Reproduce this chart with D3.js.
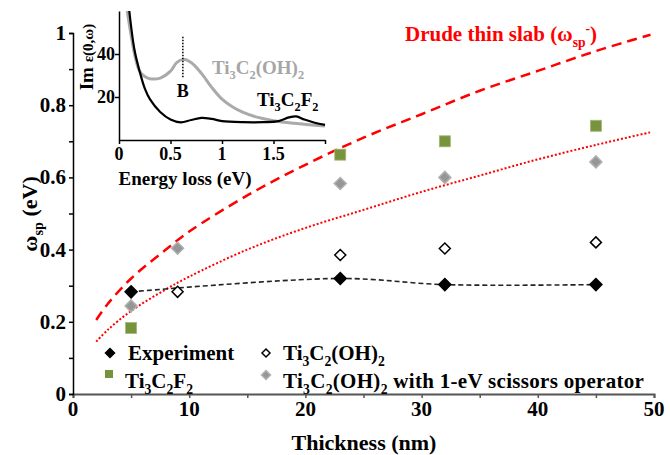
<!DOCTYPE html>
<html>
<head>
<meta charset="utf-8">
<title>Surface plasmon vs thickness</title>
<script src="https://d3js.org/d3.v7.min.js"></script>
<style>
  body { margin: 0; background: #fff; }
  svg text { font-family: "Liberation Serif", "Times New Roman", Tinos, "DejaVu Serif", serif; font-weight: bold; }
</style>
</head>
<body>
<svg id="chart" width="670" height="455"></svg>
<script>
// ---- data ----
var expThick = [5, 23, 32, 45];
var expVals  = [0.283, 0.32, 0.303, 0.303];

var ohThick = [9, 23, 32, 45];
var ohVals  = [0.283, 0.385, 0.403, 0.42];

var f2Thick = [5, 23, 32, 45];
var f2Vals  = [0.183, 0.663, 0.70, 0.743];

var scThick = [5, 9, 23, 32, 45];
var scVals  = [0.244, 0.404, 0.583, 0.60, 0.643];

// red Drude curves
var drudeX    = [2, 3, 5, 8, 10, 15, 20, 25, 30, 35, 40, 45, 49.7];
var drudeDash = [0.205, 0.25, 0.32, 0.40, 0.45, 0.55, 0.635, 0.71, 0.775, 0.84, 0.895, 0.95, 0.995];
var drudeDot  = [0.145, 0.178, 0.23, 0.29, 0.325, 0.40, 0.46, 0.51, 0.56, 0.605, 0.65, 0.69, 0.725];

// inset: Im eps(0,w) vs energy loss
var f2E   = [0.1, 0.15, 0.2, 0.25, 0.3, 0.4, 0.5, 0.6, 0.7, 0.8, 0.9, 1.0, 1.2, 1.4, 1.55, 1.65, 1.72, 1.8, 1.9, 2.0];
var f2Im  = [60, 42, 32, 24, 19, 13, 9.5, 8.2, 9.3, 10.3, 9.8, 8.8, 8.3, 8.3, 8.8, 10.5, 11, 9.5, 8, 7];
var ohE   = [0.08, 0.12, 0.16, 0.2, 0.25, 0.3, 0.4, 0.5, 0.56, 0.62, 0.7, 0.8, 0.9, 1.0, 1.1, 1.2, 1.35, 1.5, 1.7, 2.0];
var ohIm  = [60, 48, 38, 32, 29.5, 28.5, 28.8, 32, 36, 37.5, 36, 31, 24.5, 19, 15.5, 13, 10.5, 9, 7.8, 6.5];

var xTicks = [0, 10, 20, 30, 40, 50];
var yTicks = [0, 0.2, 0.4, 0.6, 0.8, 1];
var insetXTicks = [0, 0.5, 1, 1.5];
var insetYTicks = [20, 40];

// ---- helpers ----
var svg = d3.select("#chart");

// parts: [text, "sub"|"sup"|""]
function richText(g, x, y, parts, size, color, anchor) {
    var t = g.append("text").attr("x", x).attr("y", y)
        .attr("font-size", size).attr("fill", color || "#000")
        .attr("text-anchor", anchor || "start");
    var shift = 0;
    parts.forEach(function(p) {
        var dy = 0, fs = size;
        if (p[1] == "sub") { dy = size * 0.28 - shift; fs = size * 0.65; }
        else if (p[1] == "sup") { dy = -size * 0.38 - shift; fs = size * 0.65; }
        else { dy = -shift; }
        shift += dy;
        t.append("tspan").attr("dy", dy).attr("font-size", fs).text(p[0]);
    });
    return t;
}

function diamond(g, cx, cy, r, fill, stroke) {
    g.append("path")
        .attr("d", "M" + cx + "," + (cy - r) + "L" + (cx + r) + "," + cy + "L" + cx + "," + (cy + r) + "L" + (cx - r) + "," + cy + "Z")
        .attr("fill", fill).attr("stroke", stroke).attr("stroke-width", 1.5);
}

// ---- main plot ----
var x = d3.scaleLinear([0, 50], [73, 654]);
var y = d3.scaleLinear([0, 1], [394, 33]);

var main = svg.append("g");

// axes
var xAxis = main.append("g").attr("transform", "translate(0,394)")
    .call(d3.axisBottom(x).tickValues(d3.range(0, 51, 5)).tickSize(4).tickFormat(""));
xAxis.select(".domain").attr("stroke", "#555").attr("stroke-width", 2);
xAxis.selectAll(".tick line").attr("stroke", "#555").attr("stroke-width", 1.5);
main.selectAll(".xl").data(xTicks).join("text")
    .attr("x", d => x(d)).attr("y", 416).attr("text-anchor", "middle")
    .attr("font-size", 21).text(d => d);

var yAxis = main.append("g").attr("transform", "translate(73,0)")
    .call(d3.axisLeft(y).tickValues(d3.range(0, 1.01, 0.1)).tickSize(4).tickFormat(""));
yAxis.select(".domain").attr("stroke", "#000").attr("stroke-width", 1.5);
yAxis.selectAll(".tick line").attr("stroke", "#000").attr("stroke-width", 1.5);
main.selectAll(".yl").data(yTicks).join("text")
    .attr("x", 66).attr("y", d => y(d) + 7).attr("text-anchor", "end")
    .attr("font-size", 21).text(d => d);

// axis titles
main.append("text").attr("x", 364).attr("y", 450).attr("text-anchor", "middle")
    .attr("font-size", 22).text("Thickness (nm)");
var yt = main.append("g").attr("transform", "translate(37,214) rotate(-90)");
richText(yt, 0, 0, [["ω", ""], ["sp", "sub"], [" (eV)", ""]], 22, "#000", "middle");

// Drude curves
var line = d3.line().x(d => x(d[0])).y(d => y(d[1])).curve(d3.curveCatmullRom);
main.append("path").datum(d3.zip(drudeX, drudeDash)).attr("d", line)
    .attr("fill", "none").attr("stroke", "#ff0000").attr("stroke-width", 2.5)
    .attr("stroke-dasharray", "10,6");
main.append("path").datum(d3.zip(drudeX, drudeDot)).attr("d", line)
    .attr("fill", "none").attr("stroke", "#ff0000").attr("stroke-width", 2)
    .attr("stroke-dasharray", "2,2");

// experiment dashed connector
main.append("path").datum(d3.zip(expThick, expVals)).attr("d", line)
    .attr("fill", "none").attr("stroke", "#222").attr("stroke-width", 1.6)
    .attr("stroke-dasharray", "5,3");

// markers
d3.zip(f2Thick, f2Vals).forEach(function(d) {
    main.append("rect").attr("x", x(d[0]) - 5.5).attr("y", y(d[1]) - 5.5)
        .attr("width", 11).attr("height", 11).attr("fill", "#77933c")
        .attr("stroke", "#a3b87a").attr("stroke-width", 0.8);
});
d3.zip(scThick, scVals).forEach(function(d) {
    diamond(main, x(d[0]), y(d[1]), 6, "#969696", "#b0b0b0");
});
d3.zip(ohThick, ohVals).forEach(function(d) {
    diamond(main, x(d[0]), y(d[1]), 5.5, "#fff", "#000");
});
d3.zip(expThick, expVals).forEach(function(d) {
    diamond(main, x(d[0]), y(d[1]), 6, "#000", "#000");
});

// title of Drude curve
richText(main, 405, 41, [["Drude thin slab (ω", ""], ["sp", "sub"], ["-", "sup"], [")", ""]], 21, "#ff0000");

// legend
diamond(main, 110, 353, 4.5, "#000", "#000");
richText(main, 128, 360, [["Experiment", ""]], 21);
diamond(main, 266, 353, 4, "#fff", "#000");
richText(main, 283, 360, [["Ti", ""], ["3", "sub"], ["C", ""], ["2", "sub"], ["(OH)", ""], ["2", "sub"]], 21);
main.append("rect").attr("x", 105).attr("y", 370).attr("width", 8).attr("height", 8).attr("fill", "#77933c");
richText(main, 125, 388, [["Ti", ""], ["3", "sub"], ["C", ""], ["2", "sub"], ["F", ""], ["2", "sub"]], 21);
diamond(main, 266, 375, 4.5, "#969696", "#b0b0b0");
richText(main, 283, 388, [["Ti", ""], ["3", "sub"], ["C", ""], ["2", "sub"], ["(OH)", ""], ["2", "sub"], [" with 1-eV scissors operator", ""]], 21)
    .attr("letter-spacing", 0.3);

// ---- inset ----
var ix = d3.scaleLinear([0, 2], [119, 325]);
var iy = d3.scaleLinear([0, 60], [140, 11]);
var inset = svg.append("g");

var ixAxis = inset.append("g").attr("transform", "translate(0,140)")
    .call(d3.axisBottom(ix).tickValues([0, 0.5, 1, 1.5, 2]).tickSize(4).tickSizeOuter(0).tickFormat(""));
var iyAxis = inset.append("g").attr("transform", "translate(119,0)")
    .call(d3.axisLeft(iy).tickValues(insetYTicks).tickSize(4).tickSizeOuter(0).tickFormat(""));
inset.selectAll(".domain").attr("stroke", "#000").attr("stroke-width", 1.5);
inset.selectAll(".tick line").attr("stroke", "#000").attr("stroke-width", 1.5);

inset.selectAll(".ixl").data(insetXTicks).join("text")
    .attr("x", d => ix(d)).attr("y", 160).attr("text-anchor", "middle")
    .attr("font-size", 18).text(d => d);
inset.selectAll(".iyl").data(insetYTicks).join("text")
    .attr("x", 115).attr("y", d => iy(d) + 6).attr("text-anchor", "end")
    .attr("font-size", 18).text(d => d);
inset.append("text").attr("x", 185).attr("y", 185).attr("text-anchor", "middle")
    .attr("font-size", 19).text("Energy loss (eV)");
var iyt = inset.append("text").attr("transform", "translate(93,57) rotate(-90)")
    .attr("text-anchor", "middle");
iyt.append("tspan").attr("font-size", 19).text("Im ");
iyt.append("tspan").attr("font-size", 15).text("ε(0,ω)");

var iline = d3.line().x(d => ix(d[0])).y(d => iy(d[1])).curve(d3.curveCatmullRom);
inset.append("path").datum(d3.zip(ohE, ohIm)).attr("d", iline)
    .attr("fill", "none").attr("stroke", "#aaaaaa").attr("stroke-width", 3);
inset.append("path").datum(d3.zip(f2E, f2Im)).attr("d", iline)
    .attr("fill", "none").attr("stroke", "#000").attr("stroke-width", 2.2);

// peak marker B
inset.append("line").attr("x1", ix(0.62)).attr("x2", ix(0.62)).attr("y1", iy(48)).attr("y2", iy(29))
    .attr("stroke", "#000").attr("stroke-width", 1.5).attr("stroke-dasharray", "1.5,1.5");
inset.append("text").attr("x", ix(0.62)).attr("y", 97).attr("text-anchor", "middle")
    .attr("font-size", 18).text("B");

richText(inset, 212, 74, [["Ti", ""], ["3", "sub"], ["C", ""], ["2", "sub"], ["(OH)", ""], ["2", "sub"]], 19, "#a6a6a6");
richText(inset, 257, 106, [["Ti", ""], ["3", "sub"], ["C", ""], ["2", "sub"], ["F", ""], ["2", "sub"]], 19, "#000");
</script>
</body>
</html>
